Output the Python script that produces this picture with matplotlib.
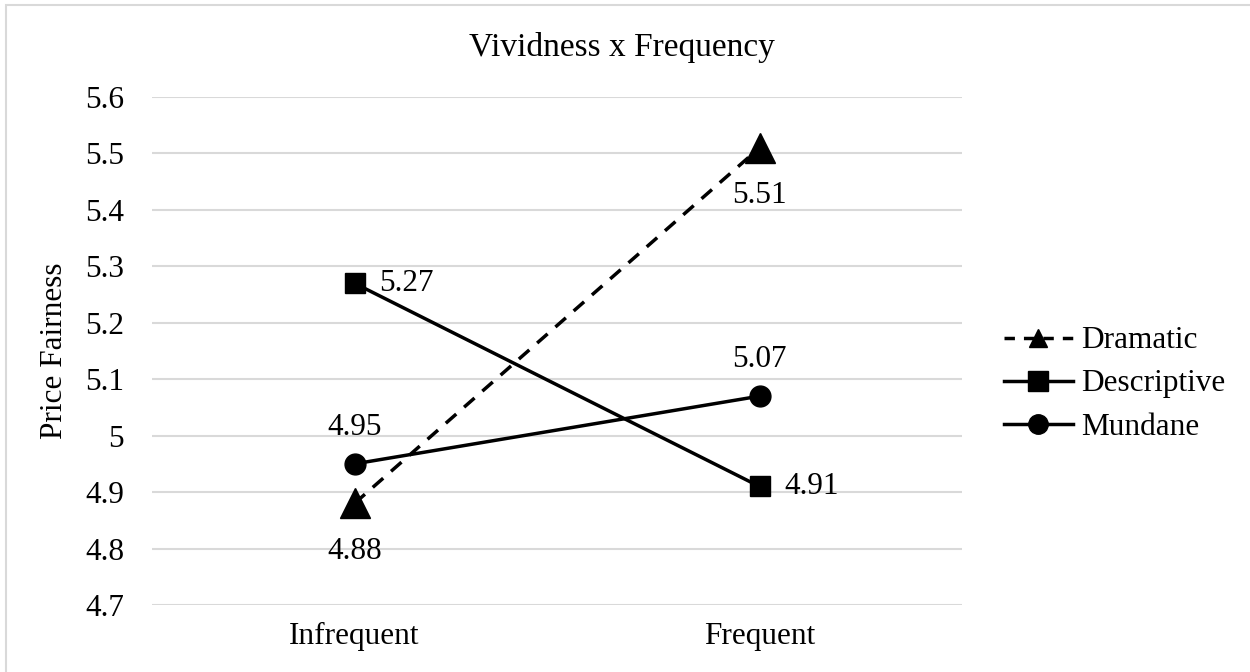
import numpy as np
import matplotlib.pyplot as plt
from matplotlib.lines import Line2D
from matplotlib.patches import Rectangle

# 条件ごとの平均値
categories = ["Infrequent", "Frequent"]
dramatic = [4.88, 5.51]
descriptive = [5.27, 4.91]
mundane = [4.95, 5.07]
yticks = [4.7, 4.8, 4.9, 5.0, 5.1, 5.2, 5.3, 5.4, 5.5, 5.6]
ytick_labels = ["4.7", "4.8", "4.9", "5", "5.1", "5.2", "5.3", "5.4", "5.5", "5.6"]


def main():
    plt.rcParams['font.family'] = ['Liberation Serif', 'DejaVu Serif']
    fs = 22.5

    W, H = 1250, 672
    fig = plt.figure(figsize=(12.5, 6.72), dpi=100)
    ax = fig.add_axes([152 / W, 1 - 605 / H, 810 / W, 508 / H])

    x = np.arange(len(categories))

    # 線と記号
    ax.plot(x, dramatic, color='black', lw=2.5, ls=(0, (4, 3)),
            marker='^', ms=22, zorder=3)
    ax.plot(x, descriptive, color='black', lw=2.5,
            marker='s', ms=15, zorder=3)
    ax.plot(x, mundane, color='black', lw=2.5,
            marker='o', ms=15, zorder=3)

    # データラベル
    for xi, v in zip(x, dramatic):
        ax.annotate(f"{v:.2f}", (xi, v), xytext=(0, -24), textcoords='offset points',
                    ha='center', va='top', fontsize=fs)
    for xi, v in zip(x, descriptive):
        ax.annotate(f"{v:.2f}", (xi, v), xytext=(18, 0), textcoords='offset points',
                    ha='left', va='center', fontsize=fs)
    for xi, v in zip(x, mundane):
        ax.annotate(f"{v:.2f}", (xi, v), xytext=(0, 16), textcoords='offset points',
                    ha='center', va='bottom', fontsize=fs)

    ax.set_xlim(-0.5, len(categories) - 0.5)
    ax.set_ylim(4.7, 5.6)
    ax.set_yticks(yticks)
    ax.set_yticklabels(ytick_labels)
    ax.set_xticks(x)
    ax.set_xticklabels(categories)
    ax.tick_params(length=0, labelsize=fs, pad=12)
    ax.tick_params(axis='y', pad=20)
    ax.grid(axis='y', color='#d9d9d9', lw=1.5)
    ax.set_axisbelow(True)
    for s in ax.spines.values():
        s.set_visible(False)

    ax.set_ylabel("Price Fairness", fontsize=fs, labelpad=12)
    fig.text(622 / W, 1 - 56 / H, "Vividness x Frequency", fontsize=24,
             ha='center', va='baseline')

    # 凡例
    handles = [
        Line2D([], [], color='black', lw=2.5, ls=(0, (3, 2.6)), marker='^', ms=13),
        Line2D([], [], color='black', lw=2.5, marker='s', ms=14),
        Line2D([], [], color='black', lw=2.5, marker='o', ms=14),
    ]
    fig.legend(handles, ["Dramatic", "Descriptive", "Mundane"],
               loc='center left', bbox_to_anchor=(1004 / W, 1 - 384 / H),
               frameon=False, fontsize=fs, handlelength=2.2, handletextpad=0.26,
               labelspacing=0.45, borderaxespad=0, borderpad=0)

    # 外枠
    fig.patches.append(Rectangle((6 / W, -0.01), 1.1, 1 - 5 / H + 0.01,
                                 transform=fig.transFigure, fill=False,
                                 edgecolor='#d9d9d9', lw=1.5))

    plt.savefig('out.png', dpi=100)


if __name__ == '__main__':
    main()
